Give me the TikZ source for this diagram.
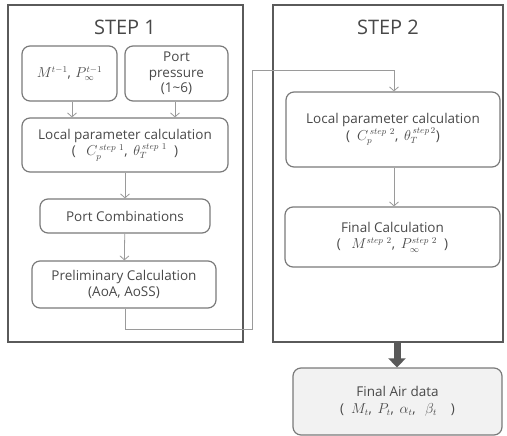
\documentclass[tikz,border=0pt]{standalone}
\usepackage{fontspec}
\setmainfont{Open Sans}
\usetikzlibrary{arrows.meta}
\definecolor{txt}{HTML}{484848}
\definecolor{frame}{HTML}{5A5A5A}
\definecolor{boxc}{HTML}{7A7A7A}
\definecolor{linec}{HTML}{9A9A9A}
\tikzset{
  frm/.style={draw=frame, line width=2pt},
  bx/.style={draw=boxc, line width=1.2pt, rounded corners=8pt, minimum width=#1, align=center, text=txt, font=\fontsize{13.5}{16.5}\selectfont, inner sep=0pt},
  ttl/.style={text=txt, font=\fontsize{20}{22}\selectfont},
  conn/.style={draw=linec, line width=0.8pt, -{Straight Barb[length=4pt,width=9pt]}},
}
\begin{document}
\begin{tikzpicture}[x=1pt,y=-1pt]
\useasboundingbox (0,0) rectangle (507,436);
\draw[frm] (8,5) rectangle (243,342);
\draw[frm] (273,5) rectangle (503,342);
\node[ttl] (t1) at (125,27) {STEP 1};
\node[ttl] (t2) at (388,27) {STEP 2};
\node[bx=95pt, minimum height=55pt] (a) at (69.5,73.5) {$M^{t-1}$,\,\,$P_{\infty}^{t-1}$};
\node[bx=103pt, minimum height=55pt, font=\fontsize{13.5}{15.5}\selectfont] (b) at (176.5,73.5) {Port\\pressure\\(1\textasciitilde6)};
\node[bx=206pt, minimum height=54pt] (l1) at (125,145) {Local parameter calculation\\( \ \ $C_p^{\,step\ 1}$,\, $\theta_T^{\,step\ 1}$ \ )};
\node[bx=170pt, minimum height=34pt] (pc) at (125,216) {Port Combinations};
\node[bx=184pt, minimum height=47pt] (pr) at (124,284.5) {Preliminary Calculation\\(AoA, AoSS)};
\node[bx=214pt, minimum height=75pt] (l2) at (393,129.5) {Local parameter calculation\\( \ $C_p^{\,step\ 2}$,\, $\theta_T^{\,step\,2}$)};
\node[bx=215pt, minimum height=60pt] (fc) at (392.5,237) {Final Calculation\\( \ \ $M^{step\ 2}$,\, $P_{\infty}^{step\ 2}$ \ )};
\node[bx=209pt, minimum height=67pt, fill=gray!10] (fa) at (397.5,401.5) {Final Air data\\( \ $M_t$,\, $P_t$,\, $\alpha_t$,\, \ $\beta_t$ \ \ \ )};
\coordinate (c1) at (125,329);
\coordinate (c2) at (252,329);
\coordinate (c3) at (252,70);
\coordinate (c4) at (394,70);
\coordinate (s2b) at (397,343);
\draw[conn] (a.south -| 72,0) -- (l1.north -| 72,0);
\draw[conn] (b.south -| 175,0) -- (l1.north -| 175,0);
\draw[conn] (l1) -- (pc);
\draw[conn] (pc) -- (pr);
\draw[conn] (pr.south -| c1) -- (c1) -- (c2) -- (c3) -- (c4) -- (l2.north -| c4);
\draw[conn] (l2.south -| c4) -- (fc.north -| c4);
\draw[draw=gray!70!black, line width=7pt, -{Triangle[length=9pt,width=17pt]}] (s2b) -- (fa.north -| s2b);
\end{tikzpicture}
\end{document}
